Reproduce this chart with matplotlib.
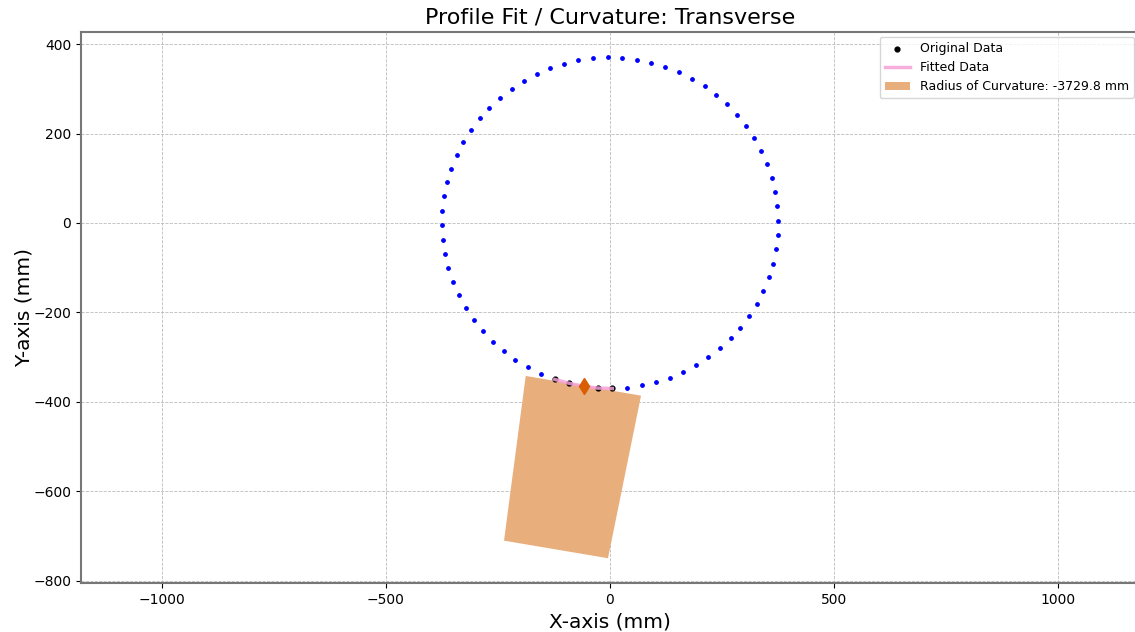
import matplotlib.pyplot as plt
from matplotlib.patches import Polygon

# Measured profile around the whole section (mm)
profile_x = [
    375.0, 373.1, 368.4, 360.8, 350.6, 337.6, 322.1, 304.1, 283.9, 261.4,
    237.0, 210.8, 182.9, 153.7, 123.3, 92.0, 60.0, 27.5,
    -5.2, -37.9, -70.3, -102.1, -133.2, -163.2, -192.0, -219.4, -245.0, -268.8,
    -290.6, -310.2, -327.3, -342.0, -354.1, -363.5, -370.2, -374.0,
    -375.0, -373.1, -368.4, -360.8, -350.6, -337.6, -322.1, -304.1, -283.9, -261.4,
    -237.0, -210.8, -182.9, -153.7, -123.3, -92.0, -60.0, -27.5,
    5.2, 37.9, 70.3, 102.1, 133.2, 163.2, 192.0, 219.4, 245.0, 268.8,
    290.6, 310.2, 327.3, 342.0, 354.1, 363.5, 370.2, 374.0,
]
profile_y = [
    5.2, 37.4, 69.3, 100.7, 131.4, 161.0, 189.5, 216.4, 241.8, 265.3,
    286.7, 306.0, 323.0, 337.5, 349.4, 358.7, 365.2, 369.0,
    370.0, 368.1, 363.4, 356.0, 345.9, 333.1, 317.8, 300.1, 280.1, 258.0,
    233.9, 208.0, 180.5, 151.7, 121.7, 90.8, 59.2, 27.1,
    -5.2, -37.4, -69.3, -100.7, -131.4, -161.0, -189.5, -216.4, -241.8, -265.3,
    -286.7, -306.0, -323.0, -337.5, -349.4, -358.7, -365.2, -369.0,
    -370.0, -368.1, -363.4, -356.0, -345.9, -333.1, -317.8, -300.1, -280.1, -258.0,
    -233.9, -208.0, -180.5, -151.7, -121.7, -90.8, -59.2, -27.1,
]

# Points selected for the transverse fit
orig_x = [-123.3, -92.0, -60.0, -27.5, 5.2]
orig_y = [-349.4, -358.7, -365.2, -369.0, -370.0]
fit_x = [-123.3, -92.0, -60.0, -27.5, 5.2]
fit_y = [-349.8, -358.3, -365.0, -369.2, -370.1]

# Fit midpoint and the curvature indicator block
mid_x, mid_y = -58.0, -364.0
roc_x = [-188.0, 69.2, -4.5, -236.4]
roc_y = [-342.0, -386.1, -749.6, -710.3]
roc_value = -3729.8

fig = plt.figure(figsize=(11.35, 6.32), dpi=100)
ax = fig.add_axes([81 / 1135, 49 / 632, 1058 / 1135, 551 / 632])

ax.scatter(profile_x, profile_y, s=6, color='blue', zorder=3)
ax.add_patch(Polygon(list(zip(roc_x, roc_y)), closed=True, facecolor='#e8ae7c',
                     edgecolor='none', zorder=2,
                     label=f'Radius of Curvature: {roc_value} mm'))
ax.scatter(orig_x, orig_y, s=12, color='black', zorder=4, label='Original Data')
ax.plot(fit_x, fit_y, color='#f5a0d6', lw=2.5, alpha=0.85, zorder=5, label='Fitted Data')
ax.plot([mid_x], [mid_y], marker='d', color='#d95f02', markersize=8, ls='none', zorder=6)

ax.set_xlim(-1180, 1180)
ax.set_ylim(-805, 427)
ax.set_xticks([-1000, -500, 0, 500, 1000])
ax.set_yticks([-800, -600, -400, -200, 0, 200, 400])

ax.grid(True, ls='--', lw=0.6, color='#bbbbbb')
for sp in ax.spines.values():
    sp.set_color('#777777')
    sp.set_linewidth(1.5)

ax.set_title('Profile Fit / Curvature: Transverse', fontsize=16)
ax.set_xlabel('X-axis (mm)', fontsize=14.5)
ax.set_ylabel('Y-axis (mm)', fontsize=14.5, labelpad=0)

handles, labels = ax.get_legend_handles_labels()
order = [labels.index('Original Data'), labels.index('Fitted Data'),
         labels.index(f'Radius of Curvature: {roc_value} mm')]
ax.legend([handles[i] for i in order], [labels[i] for i in order],
          loc='upper right', bbox_to_anchor=(0.9985, 0.998), fontsize=9,
          borderaxespad=0.3)

fig.savefig('out.png', dpi=100)
